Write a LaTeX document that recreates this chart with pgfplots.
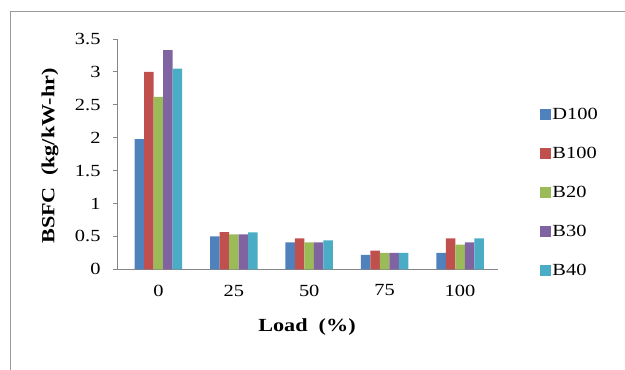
\documentclass[border=0pt]{standalone}
\usepackage{fontspec}
\setmainfont{Liberation Serif}[FakeStretch=1.2]
\usepackage{pgfplots}
\pgfplotsset{compat=1.18}

\definecolor{cD}{HTML}{4F81BD}
\definecolor{cBa}{HTML}{C0504D}
\definecolor{cBb}{HTML}{9BBB59}
\definecolor{cBc}{HTML}{8064A2}
\definecolor{cBd}{HTML}{4BACC6}
\definecolor{axgray}{HTML}{868686}
\definecolor{framegray}{HTML}{9A9A9A}

\begin{document}
\begin{tikzpicture}[x=1bp,y=1bp]
  \path[use as bounding box] (0,0) rectangle (625,369);
  \draw[framegray, line width=1.4bp] (10.5,-5) -- (10.5,357.5) -- (630,357.5);
  \begin{axis}[
    at={(117bp,99.7bp)}, anchor=south west,
    scale only axis,
    width=380.7bp, height=230.3bp,
    xmin=-0.55, xmax=4.5,
    ymin=0, ymax=3.5,
    ybar=0pt, bar width=9.5bp,
    axis x line*=bottom, axis y line*=left,
    axis line style={axgray, line width=0.8bp},
    xtick={0,1,2,3,4},
    xticklabels={0,25,50,75,100},
    xtick style={draw=none},
    ytick={0,0.5,1,1.5,2,2.5,3,3.5},
    ytick style={axgray, line width=0.8bp},
    ytick align=outside, major tick length=4bp,
    /pgf/number format/assume math mode=true,
    tick label style={font=\fontsize{17bp}{19bp}\selectfont},
    yticklabel style={xshift=-9bp},
    xticklabel style={yshift=-8bp},
    xlabel={\textbf{Load\ \ (\%)}},
    ylabel={\textbf{BSFC\ \ (kg/kW-hr)}},
    every axis x label/.style={at={(axis description cs:0.499,-0.2505)}, anchor=center,
      font=\fontsize{18.5bp}{20bp}\selectfont},
    every axis y label/.style={at={(axis description cs:-0.176,0.492)}, anchor=center, rotate=90,
      font=\fontsize{18.5bp}{20bp}\selectfont},
    legend style={
      at={(axis description cs:1.104,0.71)}, anchor=north west,
      draw=none, fill=none,
      font=\fontsize{17bp}{19bp}\selectfont,
      row sep=25bp,
      nodes={inner sep=1bp, text height=11bp, text depth=1bp},
    },
    legend cell align=left,
    legend image code/.code={\fill[#1] (0bp,-5.5bp) rectangle (11bp,5.5bp);},
  ]
    \addplot[fill=cD, draw=none] coordinates {(0,1.98) (1,0.50) (2,0.41) (3,0.22) (4,0.25)};
    \addplot[fill=cBa, draw=none] coordinates {(0,3.00) (1,0.565) (2,0.47) (3,0.285) (4,0.47)};
    \addplot[fill=cBb, draw=none] coordinates {(0,2.62) (1,0.53) (2,0.41) (3,0.25) (4,0.375)};
    \addplot[fill=cBc, draw=none] coordinates {(0,3.33) (1,0.53) (2,0.41) (3,0.25) (4,0.41)};
    \addplot[fill=cBd, draw=none] coordinates {(0,3.05) (1,0.56) (2,0.44) (3,0.25) (4,0.47)};
    \legend{D100,B100,B20,B30,B40}
  \end{axis}
\end{tikzpicture}
\end{document}
